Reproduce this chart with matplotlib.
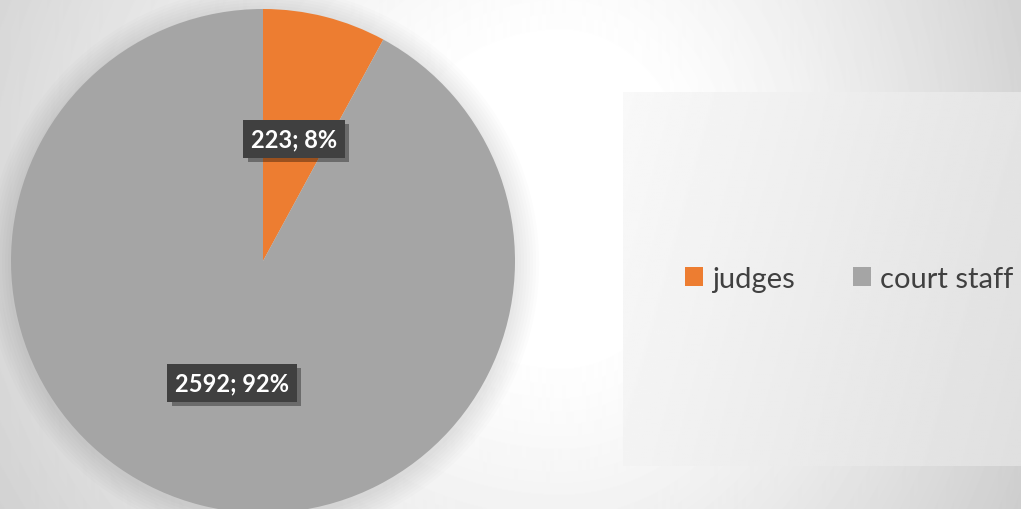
import numpy as np
import matplotlib
matplotlib.use("Agg")
import matplotlib.pyplot as plt
import matplotlib.patheffects as pe
from matplotlib.patches import Rectangle

categories = ["judges", "court staff"]
counts = [223, 2592]
colors = ["#ED7D31", "#A5A5A5"]

W, H = 1021, 510
plt.rcParams["font.family"] = ["Lato", "DejaVu Sans"]
plt.rcParams["hatch.color"] = "#4c4c4c"
plt.rcParams["hatch.linewidth"] = 1.5

fig = plt.figure(figsize=(W / 100, H / 100), dpi=100)

# slide background: white in the middle, grey towards the edges
bg = fig.add_axes([0, 0, 1, 1])
xx, yy = np.meshgrid(np.arange(W), np.arange(H))
sx = np.where(xx < 560, 620.0, 470.0)
r = np.sqrt(((xx - 560) / sx) ** 2 + ((yy - 200) / 600) ** 2)
shade = 1 - 0.18 * np.clip((r - 0.25) / 0.8, 0, 1.2) ** 1.2
bg.imshow(shade, cmap="gray", vmin=0, vmax=1, extent=(0, W, H, 0), aspect="auto")
bg.set_xlim(0, W)
bg.set_ylim(H, 0)
bg.axis("off")

# legend area
lx0, ly0, lx1, ly1 = 623, 93, 1021, 467
lax = fig.add_axes([lx0 / W, 1 - ly1 / H, (lx1 - lx0) / W, (ly1 - ly0) / H])
gx, gy = np.meshgrid(np.linspace(0, 1, 200), np.linspace(0, 1, 100))
lshade = 0.975 - 0.1 * (0.8 * gx + 0.2 * gy)
lax.imshow(lshade, cmap="gray", vmin=0, vmax=1, aspect="auto")
lax.axis("off")

# pie
cx, cy, rad = 263, 262, 252
ax = fig.add_axes([(cx - rad) / W, 1 - (cy + rad) / H, 2 * rad / W, 2 * rad / H])
ax.axis("off")

# soft shadow around the pie
for k in range(8):
    ax.add_patch(plt.Circle((0.0, -0.01), 1 + 0.012 * (k + 1), color="black",
                            alpha=0.012, zorder=0, lw=0, clip_on=False))

total = sum(counts)
wedges, texts, autotexts = ax.pie(
    counts, colors=colors, startangle=90, counterclock=False, radius=1,
    autopct=lambda p: f"{int(round(p * total / 100))}; {p:.0f}%",
    pctdistance=0.5, wedgeprops=dict(linewidth=0),
    textprops=dict(color="white", fontsize=17, fontweight="bold"),
)
ax.set_xlim(-1, 1)
ax.set_ylim(-1, 1)
for t in autotexts:
    t.set_bbox(dict(boxstyle="square,pad=0.32", facecolor="#404040",
                    edgecolor="none", hatch="."))
    t.get_bbox_patch().set_path_effects([
        pe.SimplePatchShadow(offset=(3, -3), shadow_rgbFace="black", alpha=0.35),
        pe.Normal()])

handles = [Rectangle((0, 0), 1, 1, facecolor=c, edgecolor="none") for c in colors]
fig.legend(handles, categories, loc="center left",
           bbox_to_anchor=(685 / W, 1 - 280 / H), ncol=2, frameon=False,
           fontsize=21, labelcolor="#404040", handlelength=0.62,
           handleheight=0.62, handletextpad=0.3, columnspacing=2.0,
           borderpad=0, borderaxespad=0)

fig.savefig("out.png", dpi=100)
